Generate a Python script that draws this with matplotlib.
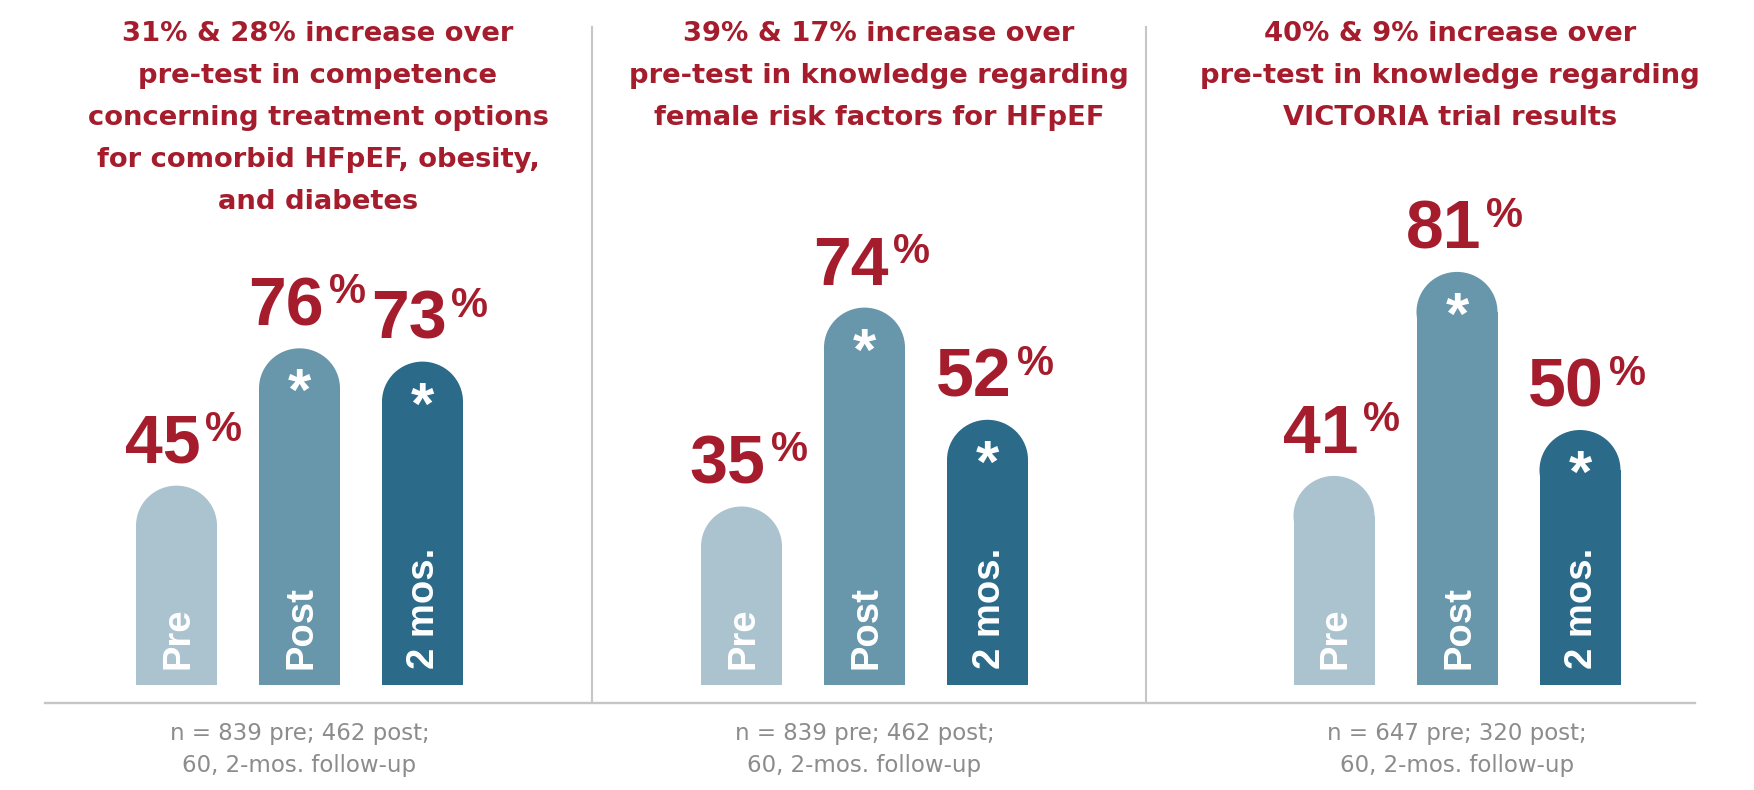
import matplotlib
matplotlib.use("Agg")
import matplotlib.pyplot as plt
from matplotlib.patches import Ellipse
from matplotlib.lines import Line2D

# ---------------- data ----------------
titles = [
    "31% & 28% increase over\npre-test in competence\nconcerning treatment options\nfor comorbid HFpEF, obesity,\nand diabetes",
    "39% & 17% increase over\npre-test in knowledge regarding\nfemale risk factors for HFpEF",
    "40% & 9% increase over\npre-test in knowledge regarding\nVICTORIA trial results",
]
categories = ["Pre", "Post", "2 mos."]
pre_values = [45, 35, 41]
post_values = [76, 74, 81]
followup_values = [73, 52, 50]
significant = [False, True, True]
footnotes = [
    "n = 839 pre; 462 post;\n60, 2-mos. follow-up",
    "n = 839 pre; 462 post;\n60, 2-mos. follow-up",
    "n = 647 pre; 320 post;\n60, 2-mos. follow-up",
]

# ---------------- style ----------------
bar_colors = ["#AAC3CF", "#6896AB", "#2B6A89"]
RED = "#A51D2D"
GREY_TEXT = "#8C8C8C"
RULE = "#C6C6C6"
NUM_FONT = "Liberation Sans"
TXT_FONT = "DejaVu Sans"

W, H, DPI = 1754, 790, 100
fig = plt.figure(figsize=(W / DPI, H / DPI), dpi=DPI)
fig.patch.set_facecolor("white")


def fx(px):
    return px / W


def fy(py):
    return 1 - py / H


post_centers_px = [299.5, 864.5, 1457]
title_centers_px = [318, 879, 1450]
px_per_pct = [4.43, 5.10, 5.10]
unit_px = 123
bar_bottom_px = 685
bar_w = 81 / unit_px
cap_px = 40

for i in range(3):
    vals = [pre_values[i], post_values[i], followup_values[i]]
    left = post_centers_px[i] - 2 * unit_px
    height_px = 100 * px_per_pct[i]
    ax = fig.add_axes([fx(left), fy(bar_bottom_px), 4 * unit_px / W, height_px / H])
    ax.set_xlim(-1, 3)
    ax.set_ylim(0, 100)
    ax.axis("off")
    cap = cap_px / px_per_pct[i]
    xs = list(range(len(categories)))
    ax.bar(xs, [v - cap for v in vals], width=bar_w, color=bar_colors, linewidth=0)
    for x, v, c, cat, sig in zip(xs, vals, bar_colors, categories, significant):
        ax.add_patch(Ellipse((x, v - cap), bar_w, 2 * cap, facecolor=c, edgecolor="none"))
        # value label
        ax.annotate(f"{v}", (x, v), xytext=(24, 23), textcoords="offset pixels",
                    ha="right", va="baseline", fontsize=49, fontweight="bold",
                    color=RED, family=NUM_FONT)
        ax.annotate("%", (x, v), xytext=(29, 45), textcoords="offset pixels",
                    ha="left", va="baseline", fontsize=30, fontweight="bold",
                    color=RED, family=NUM_FONT)
        if sig:
            ax.annotate("*", (x, v), xytext=(0, -19), textcoords="offset pixels",
                        ha="center", va="top", fontsize=43, fontweight="bold",
                        color="white", family=NUM_FONT)
        ax.annotate(cat, (x, 0), xytext=(12, 16), textcoords="offset pixels",
                    rotation=90, rotation_mode="anchor", ha="left", va="baseline",
                    fontsize=27.5, fontweight="bold", color="white", family=NUM_FONT)

    # title
    for j, line in enumerate(titles[i].split("\n")):
        fig.text(fx(title_centers_px[i]), fy(40.7 + 42 * j), line, ha="center",
                 va="baseline", fontsize=19.7, fontweight="bold", color=RED,
                 family=TXT_FONT)
    # footnote
    for j, line in enumerate(footnotes[i].split("\n")):
        fig.text(fx(post_centers_px[i]), fy(740 + 32 * j), line, ha="center",
                 va="baseline", fontsize=16.5, color=GREY_TEXT, family=TXT_FONT)

# baseline rule and separators
fig.add_artist(Line2D([fx(45), fx(1695)], [fy(703), fy(703)], color=RULE, lw=1.7))
for sx in (592, 1146):
    fig.add_artist(Line2D([fx(sx), fx(sx)], [fy(27), fy(703)], color=RULE, lw=1.5))

fig.savefig("out.png", dpi=DPI, facecolor="white")
